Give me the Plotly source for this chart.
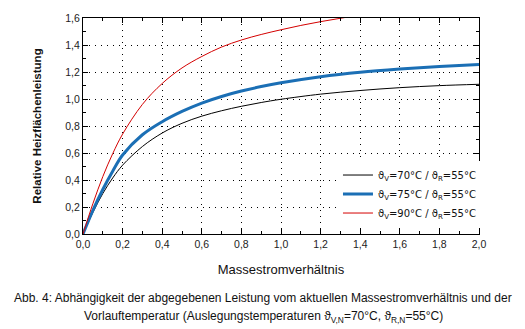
import plotly.graph_objects as go

# Massestromverhältnis (relative mass flow) and relative radiator output per supply temperature
x_70 = [0.0, 0.05, 0.1, 0.15, 0.2, 0.3, 0.4, 0.5, 0.6, 0.7, 0.8, 0.9, 1.0, 1.2, 1.4, 1.6, 1.8, 2.0]
y_70 = [0.0, 0.16, 0.30, 0.415, 0.51, 0.648, 0.748, 0.82, 0.873, 0.913, 0.946, 0.974, 0.998, 1.036, 1.063, 1.084, 1.099, 1.109]

x_75 = [0.0, 0.05, 0.1, 0.15, 0.2, 0.3, 0.4, 0.5, 0.6, 0.7, 0.8, 0.9, 1.0, 1.2, 1.4, 1.6, 1.8, 2.0]
y_75 = [0.0, 0.175, 0.33, 0.465, 0.585, 0.735, 0.832, 0.908, 0.97, 1.019, 1.059, 1.092, 1.12, 1.165, 1.198, 1.222, 1.241, 1.256]

x_90 = [0.0, 0.05, 0.1, 0.15, 0.2, 0.3, 0.4, 0.5, 0.6, 0.7, 0.8, 0.9, 1.0, 1.1, 1.2, 1.3, 1.4]
y_90 = [0.0, 0.225, 0.425, 0.595, 0.74, 0.96, 1.115, 1.23, 1.315, 1.385, 1.437, 1.478, 1.513, 1.545, 1.573, 1.598, 1.622]

names = [
    "ϑ<sub>V</sub>=70°C / ϑ<sub>R</sub>=55°C",
    "ϑ<sub>V</sub>=75°C / ϑ<sub>R</sub>=55°C",
    "ϑ<sub>V</sub>=90°C / ϑ<sub>R</sub>=55°C",
]

caption_1 = "Abb. 4: Abhängigkeit der abgegebenen Leistung vom aktuellen Massestromverhältnis und der"
caption_2 = "Vorlauftemperatur (Auslegungstemperaturen ϑ<sub>V,N</sub>=70°C, ϑ<sub>R,N</sub>=55°C)"

tick_font = dict(family="Liberation Sans", size=10.5, color="#222")

fig = go.Figure()
fig.add_trace(go.Scatter(x=x_70, y=y_70, mode="lines", name=names[0],
                         line=dict(color="black", width=1, shape="spline", smoothing=1.0)))
fig.add_trace(go.Scatter(x=x_75, y=y_75, mode="lines", name=names[1],
                         line=dict(color="#1b6fb5", width=3, shape="spline", smoothing=1.0)))
fig.add_trace(go.Scatter(x=x_90, y=y_90, mode="lines", name=names[2],
                         line=dict(color="#d40000", width=1, shape="spline", smoothing=1.0)))

axis_common = dict(
    showline=True, linecolor="black", linewidth=1, mirror="ticks",
    ticks="inside", ticklen=5, tickcolor="black", tickwidth=1,
    showgrid=True, gridcolor="black", gridwidth=1, griddash="1px,5px",
    zeroline=False, tickformat=".1f", tickfont=tick_font,
    minor=dict(ticks="inside", ticklen=3, tickcolor="black", showgrid=False),
)

fig.update_xaxes(range=[0, 2.0], dtick=0.2, minor_dtick=0.1,
                 title=dict(text="Massestromverhältnis",
                            font=dict(family="Liberation Sans", size=13, color="#111"),
                            standoff=16),
                 **axis_common)
fig.update_yaxes(range=[0, 1.6], dtick=0.2, minor_dtick=0.1,
                 title=dict(text="<b>Relative Heizflächenleistung</b>",
                            font=dict(family="Liberation Sans", size=11.5, color="#111"),
                            standoff=21),
                 **axis_common)

fig.update_layout(
    width=525, height=329,
    margin=dict(l=83, r=46, t=15, b=95),
    plot_bgcolor="white", paper_bgcolor="white",
    separators=",.",
    showlegend=True,
    legend=dict(x=1.005, xanchor="right", y=0.03, yanchor="bottom",
                bgcolor="white", borderwidth=0,
                font=dict(family="DejaVu Sans", size=10, color="#111"),
                tracegroupgap=0, itemwidth=30),
    annotations=[
        dict(text=caption_1, xref="paper", yref="paper", x=0.455, y=-0.297,
             xanchor="center", yanchor="middle", showarrow=False,
             font=dict(family="Liberation Sans", size=12, color="#111")),
        dict(text=caption_2, xref="paper", yref="paper", x=0.455, y=-0.384,
             xanchor="center", yanchor="middle", showarrow=False,
             font=dict(family="Liberation Sans", size=12, color="#111")),
    ],
)

fig.write_html("out.html")
